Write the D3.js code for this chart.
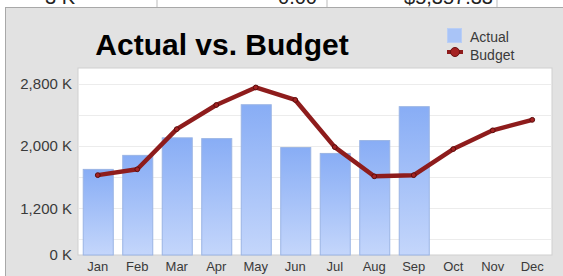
<!DOCTYPE html>
<html>
<head>
<script src="https://d3js.org/d3.v7.min.js"></script>
<style>
  body { margin: 0; background: #fff; }
  svg { display: block; font-family: "Liberation Sans", Arial, sans-serif; }
</style>
</head>
<body>
<div id="chart"></div>
<script>
// data (values in K)
var months = ["Jan", "Feb", "Mar", "Apr", "May", "Jun", "Jul", "Aug", "Sep", "Oct", "Nov", "Dec"];
var actual = [1705, 1885, 2110, 2100, 2535, 1985, 1910, 2075, 2510, null, null, null];
var budget = [1625, 1700, 2215, 2525, 2750, 2590, 1985, 1610, 1625, 1960, 2200, 2335];
var tickValues = [600, 1200, 2000, 2800];
var tickLabels = ["0 K", "1,200 K", "2,000 K", "2,800 K"];
var gridValues = [800, 1200, 1600, 2000, 2400, 2800];
// cut-off sheet cells above the chart
var sheetCells = [["3 K", 75], ["0.00", 317], ["$5,357.33", 493]];

var W = 563, H = 276;
var plot = {left: 78, top: 68, right: 552, bottom: 255};

var svg = d3.select("#chart").append("svg")
    .attr("width", W)
    .attr("height", H);

var defs = svg.append("defs");
var grad = defs.append("linearGradient")
    .attr("id", "barGrad")
    .attr("x1", 0).attr("y1", 0).attr("x2", 0).attr("y2", 1);
grad.append("stop").attr("offset", "0%").attr("stop-color", "#88adf5");
grad.append("stop").attr("offset", "100%").attr("stop-color", "#c4d6fb");
defs.append("clipPath").attr("id", "stripClip")
  .append("rect").attr("x", 0).attr("y", 0).attr("width", W).attr("height", 7);

// strip of the sheet above the chart
svg.append("rect").attr("x", 0).attr("y", 0).attr("width", W).attr("height", 8).attr("fill", "#fff");
[157, 327, 497].forEach(function(x) {
  svg.append("line").attr("x1", x).attr("x2", x).attr("y1", 0).attr("y2", 7)
    .attr("stroke", "#bbb");
});
svg.append("g").attr("clip-path", "url(#stripClip)")
  .selectAll("text")
  .data(sheetCells)
  .join("text")
    .attr("x", function(d) { return d[1]; })
    .attr("y", 4)
    .attr("text-anchor", "end")
    .attr("font-size", 20)
    .attr("fill", "#222")
    .text(function(d) { return d[0]; });

// panel
svg.append("rect")
    .attr("x", 5.5).attr("y", 7.5)
    .attr("width", W).attr("height", H)
    .attr("fill", "#e2e2e2")
    .attr("stroke", "#a8a8a8");

// plot area
svg.append("rect")
    .attr("x", plot.left).attr("y", plot.top)
    .attr("width", plot.right - plot.left).attr("height", plot.bottom - plot.top)
    .attr("fill", "#fff")
    .attr("stroke", "#cfcfcf");

var x = d3.scaleBand()
    .domain(months)
    .range([plot.left, plot.right])
    .paddingInner(0.24)
    .paddingOuter(0.12);

var y = d3.scaleLinear()
    .domain([600, 3000])
    .range([plot.bottom, plot.top]);

// gridlines
svg.append("g")
  .selectAll("line")
  .data(gridValues)
  .join("line")
    .attr("x1", plot.left + 1).attr("x2", plot.right - 1)
    .attr("y1", function(d) { return Math.round(y(d)) + 0.5; })
    .attr("y2", function(d) { return Math.round(y(d)) + 0.5; })
    .attr("stroke", "#ececec");

// bars
svg.append("g")
  .selectAll("rect")
  .data(months.map(function(m, i) { return {m: m, v: actual[i]}; }).filter(function(d) { return d.v != null; }))
  .join("rect")
    .attr("x", function(d) { return x(d.m) + 0.5; })
    .attr("y", function(d) { return y(d.v) + 0.5; })
    .attr("width", x.bandwidth())
    .attr("height", function(d) { return plot.bottom - y(d.v) - 0.5; })
    .attr("fill", "url(#barGrad)")
    .attr("stroke", "#9ab4e4");

// budget line
var pts = months.map(function(m, i) { return {m: m, v: budget[i]}; });
var cx = function(d) { return x(d.m) + x.bandwidth() / 2; };
svg.append("path")
    .datum(pts)
    .attr("fill", "none")
    .attr("stroke", "#8e1c1c")
    .attr("stroke-width", 4.5)
    .attr("stroke-linejoin", "round")
    .attr("d", d3.line().x(cx).y(function(d) { return y(d.v); }));
svg.append("g")
  .selectAll("circle")
  .data(pts)
  .join("circle")
    .attr("cx", cx)
    .attr("cy", function(d) { return y(d.v); })
    .attr("r", 2.4)
    .attr("fill", "#a52222")
    .attr("stroke", "#5a0d0d")
    .attr("stroke-width", 1);

// y axis labels
var yAxis = d3.axisLeft(y)
    .tickValues(tickValues)
    .tickFormat(function(d, i) { return tickLabels[i]; })
    .tickSize(0)
    .tickPadding(6);
var gy = svg.append("g")
    .attr("transform", "translate(" + plot.left + ",0)")
    .call(yAxis);
gy.select(".domain").remove();
gy.selectAll("text")
    .attr("font-size", 15)
    .attr("font-family", "Liberation Sans, Arial, sans-serif")
    .attr("fill", "#3a3a3a");

// x axis labels
var xAxis = d3.axisBottom(x).tickSize(0).tickPadding(7);
var gx = svg.append("g")
    .attr("transform", "translate(0," + plot.bottom + ")")
    .call(xAxis);
gx.select(".domain").remove();
gx.selectAll("text")
    .attr("font-size", 13)
    .attr("font-family", "Liberation Sans, Arial, sans-serif")
    .attr("fill", "#3a3a3a");

// title
svg.append("text")
    .attr("x", 222).attr("y", 55)
    .attr("text-anchor", "middle")
    .attr("font-size", 30)
    .attr("font-weight", "bold")
    .attr("fill", "#000")
    .text("Actual vs. Budget");

// legend
var lg = svg.append("g");
lg.append("rect")
    .attr("x", 447.5).attr("y", 28.5)
    .attr("width", 14).attr("height", 14)
    .attr("fill", "#a9c4f7")
    .attr("stroke", "#b9cef5");
lg.append("line")
    .attr("x1", 447).attr("x2", 463).attr("y1", 52).attr("y2", 52)
    .attr("stroke", "#8e1c1c").attr("stroke-width", 4);
lg.append("circle")
    .attr("cx", 455).attr("cy", 52).attr("r", 4.5)
    .attr("fill", "#a52222").attr("stroke", "#6a1010");
lg.selectAll("text.lbl")
  .data(["Actual", "Budget"])
  .join("text")
    .attr("x", 470)
    .attr("y", function(d, i) { return 42 + i * 18; })
    .attr("font-size", 14)
    .attr("fill", "#3a3a3a")
    .text(function(d) { return d; });
</script>
</body>
</html>
